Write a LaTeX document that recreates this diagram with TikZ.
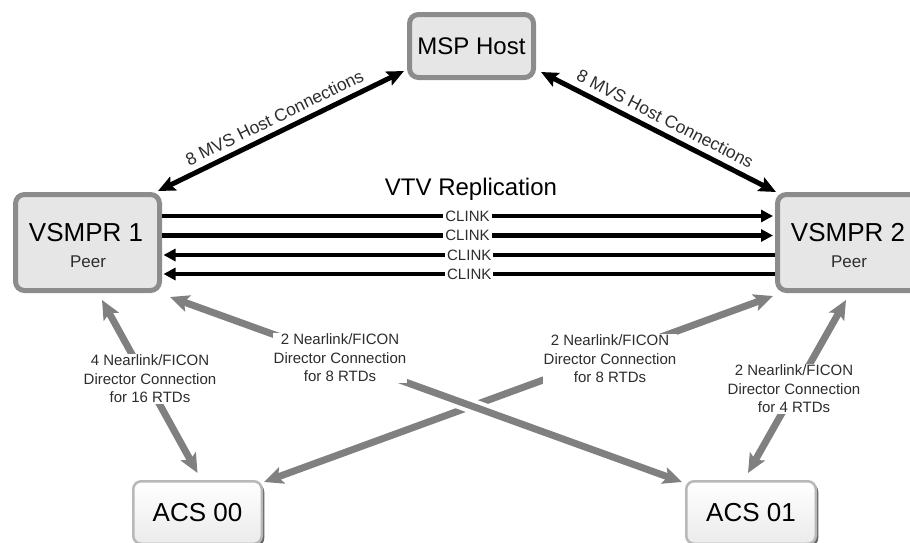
\documentclass[tikz,border=0pt]{standalone}
\usepackage{fontspec}
\setmainfont{Liberation Sans}
\usetikzlibrary{arrows.meta,calc,shadows}
\definecolor{arrgray}{RGB}{128,128,128}
\definecolor{boxfill}{RGB}{230,230,230}
\definecolor{boxedge}{RGB}{140,140,140}
\definecolor{txtgray}{RGB}{45,45,45}
\tikzset{
  mvstip/.tip={Stealth[length=17pt,width=15pt,inset=3pt]},
  ctip/.tip={Triangle[length=12pt,width=12pt]},
  gtip/.tip={Stealth[length=19pt,width=17pt,inset=4pt]},
}
\begin{document}
\begin{tikzpicture}[x=1pt,y=-1pt,
  hostbox/.style={rounded corners=9pt, fill=boxfill, draw=boxedge, line width=5pt},
  acsbox/.style={rounded corners=8pt, draw=black!28, line width=2.5pt,
    top color=white, bottom color=black!8,
    drop shadow={shadow xshift=2.5pt, shadow yshift=-2.5pt, fill=black!60, opacity=1},
    font=\fontsize{26}{30}\selectfont},
  mvs/.style={line width=5pt, mvstip-mvstip},
  mvslbl/.style={sloped, above=5pt, inner sep=1pt, text=txtgray, font=\fontsize{17.5}{20}\selectfont},
  clink/.style={line width=4.5pt},
  cl/.style={fill=white, inner sep=2pt, text=txtgray, font=\fontsize{15}{15}\selectfont},
  fic/.style={line width=7pt, draw=arrgray, gtip-gtip},
  halo/.style={preaction={draw=white, line width=15pt, -, shorten <=60pt, shorten >=60pt}},
  ficlbl/.style={fill=white, inner sep=1pt, align=center, text=txtgray, font=\fontsize{15}{18.5}\selectfont},
  bigtxt/.style={anchor=base, font=\fontsize{26}{30}\selectfont},
  peertxt/.style={anchor=base, text=txtgray, font=\fontsize{17}{20}\selectfont},
]
\useasboundingbox (0,0) rectangle (910,542);
\begin{scope}
\clip (0,0) rectangle (910,542);

% boxes
\node[hostbox, minimum width=124pt, minimum height=63pt, font=\fontsize{24}{28}\selectfont] (msp) at (471.5,46) {MSP Host};
\node[hostbox, minimum width=144pt, minimum height=96pt] (v1) at (87.5,242.5) {};
\node[hostbox, minimum width=144pt, minimum height=96pt] (v2) at (849.5,242.5) {};
\node[bigtxt] (v1t) at (86,241.5) {VSMPR 1};
\node[peertxt] (v1p) at (88,267) {Peer};
\node[bigtxt] (v2t) at (848,241.5) {VSMPR 2};
\node[peertxt] (v2p) at (849,267) {Peer};
\node[acsbox, minimum width=128.5pt, minimum height=62.5pt] (acs0) at (197.5,512.5) {ACS 00};
\node[acsbox, minimum width=129.5pt, minimum height=62.5pt] (acs1) at (751,512.5) {ACS 01};

% end points
\coordinate (m1a) at ($(v1.north east)+(-4,-1)$);
\coordinate (m1b) at ($(msp.south west)+(-3,-9)$);
\coordinate (m2a) at ($(msp.south east)+(5,-8)$);
\coordinate (m2b) at ($(v2.north west)+(1,0)$);

\coordinate (g1a) at ($(v1.south)+(14.5,7)$);
\coordinate (g1b) at ($(acs0.north)+(0,-7)$);
\coordinate (g2a) at ($(v1.south east)+(8,4)$);
\coordinate (g2b) at ($(acs1.north west)+(-3,2)$);
\coordinate (g3a) at ($(v2.south west)+(-2,3)$);
\coordinate (g3b) at ($(acs0.north east)+(1,2)$);
\coordinate (g4a) at ($(v2.south)+(-3.5,7)$);
\coordinate (g4b) at ($(acs1.north)+(-3,-7)$);

% MVS host connections
\draw[mvs] (m1a) -- node[mvslbl] (mvs1) {8 MVS Host Connections} (m1b);
\draw[mvs] (m2a) -- node[mvslbl] (mvs2) {8 MVS Host Connections} (m2b);

% VTV replication
\node[anchor=base, font=\fontsize{24}{28}\selectfont] (vtv) at (471,195) {VTV Replication};
\draw[clink, -ctip] ($(v1.east)+(0,-26.5)$) -- node[cl] (c1) {CLINK} ($(v2.west)+(-2,-26.5)$);
\draw[clink, -ctip] ($(v1.east)+(0,-7)$) -- node[cl] (c2) {CLINK} ($(v2.west)+(-2,-7)$);
\draw[clink, ctip-] ($(v1.east)+(1.5,12.5)$) -- node[cl] (c3) {CLINK} ($(v2.west)+(0,12.5)$);
\draw[clink, ctip-] ($(v1.east)+(1.5,31.5)$) -- node[cl] (c4) {CLINK} ($(v2.west)+(0,31.5)$);

% Nearlink/FICON connections
\draw[fic] (g1a) -- (g1b);
\draw[fic] (g3a) -- (g3b);
\draw[fic, halo] (g2a) -- (g2b);
\draw[fic] (g4a) -- (g4b);

\node[ficlbl] (l1) at (150,379) {4 Nearlink/FICON\\Director Connection\\for 16 RTDs};
\node[ficlbl] (l2) at (340,358) {2 Nearlink/FICON\\Director Connection\\for 8 RTDs};
\node[ficlbl] (l3) at (610,359) {2 Nearlink/FICON\\Director Connection\\for 8 RTDs};
\node[ficlbl] (l4) at (794,389) {2 Nearlink/FICON\\Director Connection\\for 4 RTDs};
\end{scope}
\end{tikzpicture}
\end{document}
